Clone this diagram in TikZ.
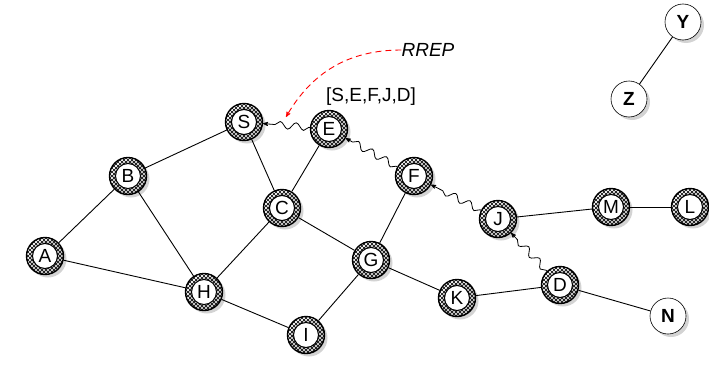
\documentclass[tikz,border=0pt]{standalone}
\usepackage{fontspec}
\setmainfont{Liberation Sans}
\usepackage{tikz}
\usetikzlibrary{arrows,shadows,patterns,decorations.pathmorphing}

% diagonal hatch for the ring of the nodes
\pgfdeclarepatternformonly{ringhatch}{\pgfqpoint{-1pt}{-1pt}}{\pgfqpoint{5pt}{5pt}}{\pgfqpoint{4pt}{4pt}}{
	\pgfsetlinewidth{0.45pt}
	\pgfpathmoveto{\pgfqpoint{0pt}{0pt}}
	\pgfpathlineto{\pgfqpoint{4pt}{4pt}}
	\pgfpathmoveto{\pgfqpoint{0pt}{4pt}}
	\pgfpathlineto{\pgfqpoint{4pt}{0pt}}
	\pgfusepath{stroke}}

\tikzset{wave/.style={decorate,decoration={snake,amplitude=3.5pt,segment length=16pt,pre length=1pt,post length=5pt}}}

\begin{document}
\begin{tikzpicture}[x=1pt,y=-1pt,semithick,
		font=\fontsize{19}{22}\selectfont]
		\tikzstyle{every node}=[inner sep=0pt]
		\tikzstyle{hub}=[circle,draw=black,line width=1.4pt,minimum size=37pt,
			pattern=ringhatch,drop shadow={opacity=0.35,shadow xshift=3pt,shadow yshift=-3pt},
			path picture={\draw[fill=white,line width=1pt] (path picture bounding box.center) circle (12.5pt);}]
		\tikzstyle{lone}=[circle,draw=black,fill=white,minimum size=36pt,font=\fontsize{19}{22}\selectfont\bfseries,
			drop shadow={opacity=0.35,shadow xshift=3pt,shadow yshift=-3pt}]
		\tikzstyle{link}=[-,line width=0.9pt]
		\tikzstyle{reply}=[->,>=stealth',line width=0.8pt,wave]
		\useasboundingbox (0,0) rectangle (709,364);
		
		\node[hub] (S) at (244,122) {S};
		\node[hub] (E) at (329,129) {E};
		\node[hub] (B) at (128,176) {B};
		\node[hub] (F) at (414,176) {F};
		\node[hub] (C) at (282,208) {C};
		\node[hub] (J) at (498,219) {J};
		\node[hub] (M) at (611,207) {M};
		\node[hub] (L) at (690,207) {L};
		\node[hub] (A) at (45,256) {A};
		\node[hub] (G) at (371,260) {G};
		\node[hub] (H) at (204,292) {H};
		\node[hub] (K) at (457,298) {K};
		\node[hub] (D) at (560,285) {D};
		\node[hub] (I) at (306,335) {I};
		\node[lone] (N) at (668,316) {N};
		\node[lone] (Y) at (683,22) {Y};
		\node[lone] (Z) at (629,99) {Z};
		
		\node (route) at (371,97) {[S,E,F,J,D]};
		\node[font=\fontsize{19}{22}\selectfont\itshape] (rrep) at (428,50) {RREP};
		\coordinate (rrep tip) at (286,117);
		
		\path[link]
		(A) edge (B) edge (H)
		(B) edge (S) edge (H)
		(S) edge (C)
		(C) edge (E) edge (H) edge (G)
		(F) edge (G)
		(G) edge (K) edge (I)
		(H) edge (I)
		(K) edge (D)
		(D) edge (N)
		(J) edge (M)
		(M) edge (L)
		(Y) edge (Z);
		
		\draw[reply] (E) -- (S);
		\draw[reply] (F) -- (E);
		\draw[reply] (J) -- (F);
		\draw[reply] (D) -- (J);
		
		\draw[->,>=stealth',red,dash pattern=on 6pt off 4pt,line width=0.9pt] (rrep.west) to[out=180,in=60] (rrep tip);
\end{tikzpicture}
\end{document}
